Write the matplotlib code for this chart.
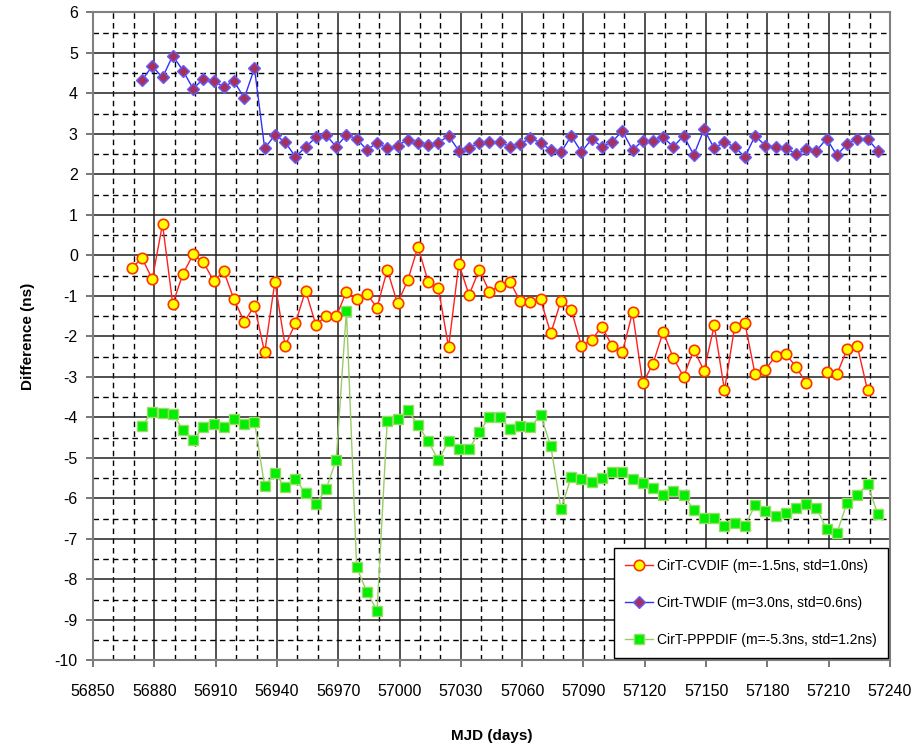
import numpy as np
import matplotlib
matplotlib.use("Agg")
import matplotlib.pyplot as plt
from matplotlib.ticker import MultipleLocator

plt.rcParams['font.family'] = ['Liberation Sans', 'DejaVu Sans']
plt.rcParams['axes.unicode_minus'] = False

# MJD sampling, one point every 5 days
mjd = np.arange(56874, 57235, 5)
mjd_cv = np.arange(56869, 57230, 5)

# CirT - CV (one gap near 57204)
cvdif = [-0.31, -0.07, -0.59, 0.77, -1.20, -0.46, 0.02, -0.17, -0.63, -0.40,
         -1.09, -1.64, -1.25, -2.40, -0.65, -2.24, -1.68, -0.87, -1.71, -1.51,
         -1.51, -0.90, -1.09, -0.96, -1.29, -0.36, -1.19, -0.62, 0.21, -0.65,
         -0.81, -2.27, -0.21, -0.98, -0.36, -0.90, -0.75, -0.65, -1.13, -1.16,
         -1.09, -1.93, -1.12, -1.34, -2.24, -2.09, -1.76, -2.24, -2.40, -1.41,
         -3.16, -2.68, -1.89, -2.54, -3.00, -2.33, -2.85, -1.73, -3.33, -1.76,
         -1.68, -2.94, -2.82, -2.49, -2.44, -2.75, -3.16, np.nan, -2.87, -2.94,
         -2.32, -2.24, -3.33]

# CirT - TW
twdif = [4.33, 4.67, 4.39, 4.93, 4.56, 4.11, 4.36, 4.30, 4.16, 4.30,
         3.88, 4.62, 2.64, 2.97, 2.80, 2.43, 2.67, 2.91, 2.97, 2.68,
         2.97, 2.88, 2.60, 2.78, 2.64, 2.71, 2.85, 2.77, 2.72, 2.78,
         2.95, 2.58, 2.65, 2.78, 2.80, 2.80, 2.68, 2.75, 2.89, 2.78,
         2.60, 2.54, 2.95, 2.55, 2.87, 2.68, 2.80, 3.07, 2.60, 2.83,
         2.83, 2.91, 2.68, 2.95, 2.48, 3.11, 2.64, 2.80, 2.67, 2.43,
         2.95, 2.71, 2.68, 2.66, 2.49, 2.62, 2.58, 2.88, 2.47, 2.75,
         2.88, 2.88, 2.58]

# CirT - PPP
pppdif = [-4.21, -3.86, -3.89, -3.91, -4.31, -4.57, -4.24, -4.17, -4.25, -4.04,
          -4.17, -4.11, -5.70, -5.38, -5.73, -5.52, -5.88, -6.14, -5.78, -5.05,
          -1.37, -7.70, -8.31, -8.78, -4.08, -4.04, -3.82, -4.19, -4.59, -5.06,
          -4.59, -4.78, -4.78, -4.37, -3.99, -3.99, -4.28, -4.21, -4.25, -3.94,
          -4.71, -6.27, -5.47, -5.53, -5.60, -5.49, -5.34, -5.34, -5.53, -5.63,
          -5.75, -5.91, -5.82, -5.91, -6.29, -6.49, -6.49, -6.68, -6.60, -6.68,
          -6.17, -6.31, -6.44, -6.36, -6.23, -6.14, -6.23, -6.77, -6.86, -6.11,
          -5.92, -5.65, -6.39]

labels = ["CirT-CVDIF (m=-1.5ns, std=1.0ns)",
          "Cirt-TWDIF (m=3.0ns, std=0.6ns)",
          "CirT-PPPDIF (m=-5.3ns, std=1.2ns)"]

fig = plt.figure(figsize=(9.13, 7.45), dpi=100)
ax = fig.add_axes([0.1019, 0.1137, 0.8729, 0.8698])

ax.plot(mjd_cv, cvdif, color='#ff2020', lw=1, marker='o', ms=7.5,
        mfc='#ffff00', mec='#ff3300', mew=1.2, label=labels[0], zorder=4)
ax.plot(mjd, twdif, color='#3030ff', lw=1, marker='D', ms=6.3,
        mfc='#a8305f', mec='#6060ff', mew=1.0, label=labels[1], zorder=4)
ax.plot(mjd, pppdif, color='#99cc66', lw=1, marker='s', ms=7.3,
        mfc='#00ee00', mec='#99dd66', mew=1.0, label=labels[2], zorder=3)

ax.set_xlim(56850, 57240)
ax.set_ylim(-10, 6)
ax.xaxis.set_major_locator(MultipleLocator(30))
ax.xaxis.set_minor_locator(MultipleLocator(10))
ax.yaxis.set_major_locator(MultipleLocator(1))
ax.yaxis.set_minor_locator(MultipleLocator(0.5))
ax.set_axisbelow(True)
ax.grid(which='major', color='#202020', lw=1.1, ls='-')
ax.grid(which='minor', color='#000000', lw=1.0, ls=(0, (4, 3)))

ax.tick_params(which='major', direction='out', length=5, width=1.2, color='#606060',
               labelsize=11.5)
ax.tick_params(axis='x', which='major', pad=12)
ax.tick_params(axis='y', which='major', pad=6)
ax.tick_params(which='minor', length=0)
for s in ax.spines.values():
    s.set_color('#808080')
    s.set_linewidth(1.5)

ax.set_xlabel("MJD (days)", fontsize=11, fontweight='bold', labelpad=22)
ax.set_ylabel("Difference (ns)", fontsize=11, fontweight='bold', labelpad=14)

leg = ax.legend(loc='lower right', fontsize=10, frameon=True, fancybox=False,
                edgecolor='black', framealpha=1, borderaxespad=0.15,
                labelspacing=1.65, borderpad=0.8, handlelength=2.0,
                handletextpad=0.3)
leg.get_frame().set_linewidth(1.0)

fig.savefig("out.png", dpi=100)
